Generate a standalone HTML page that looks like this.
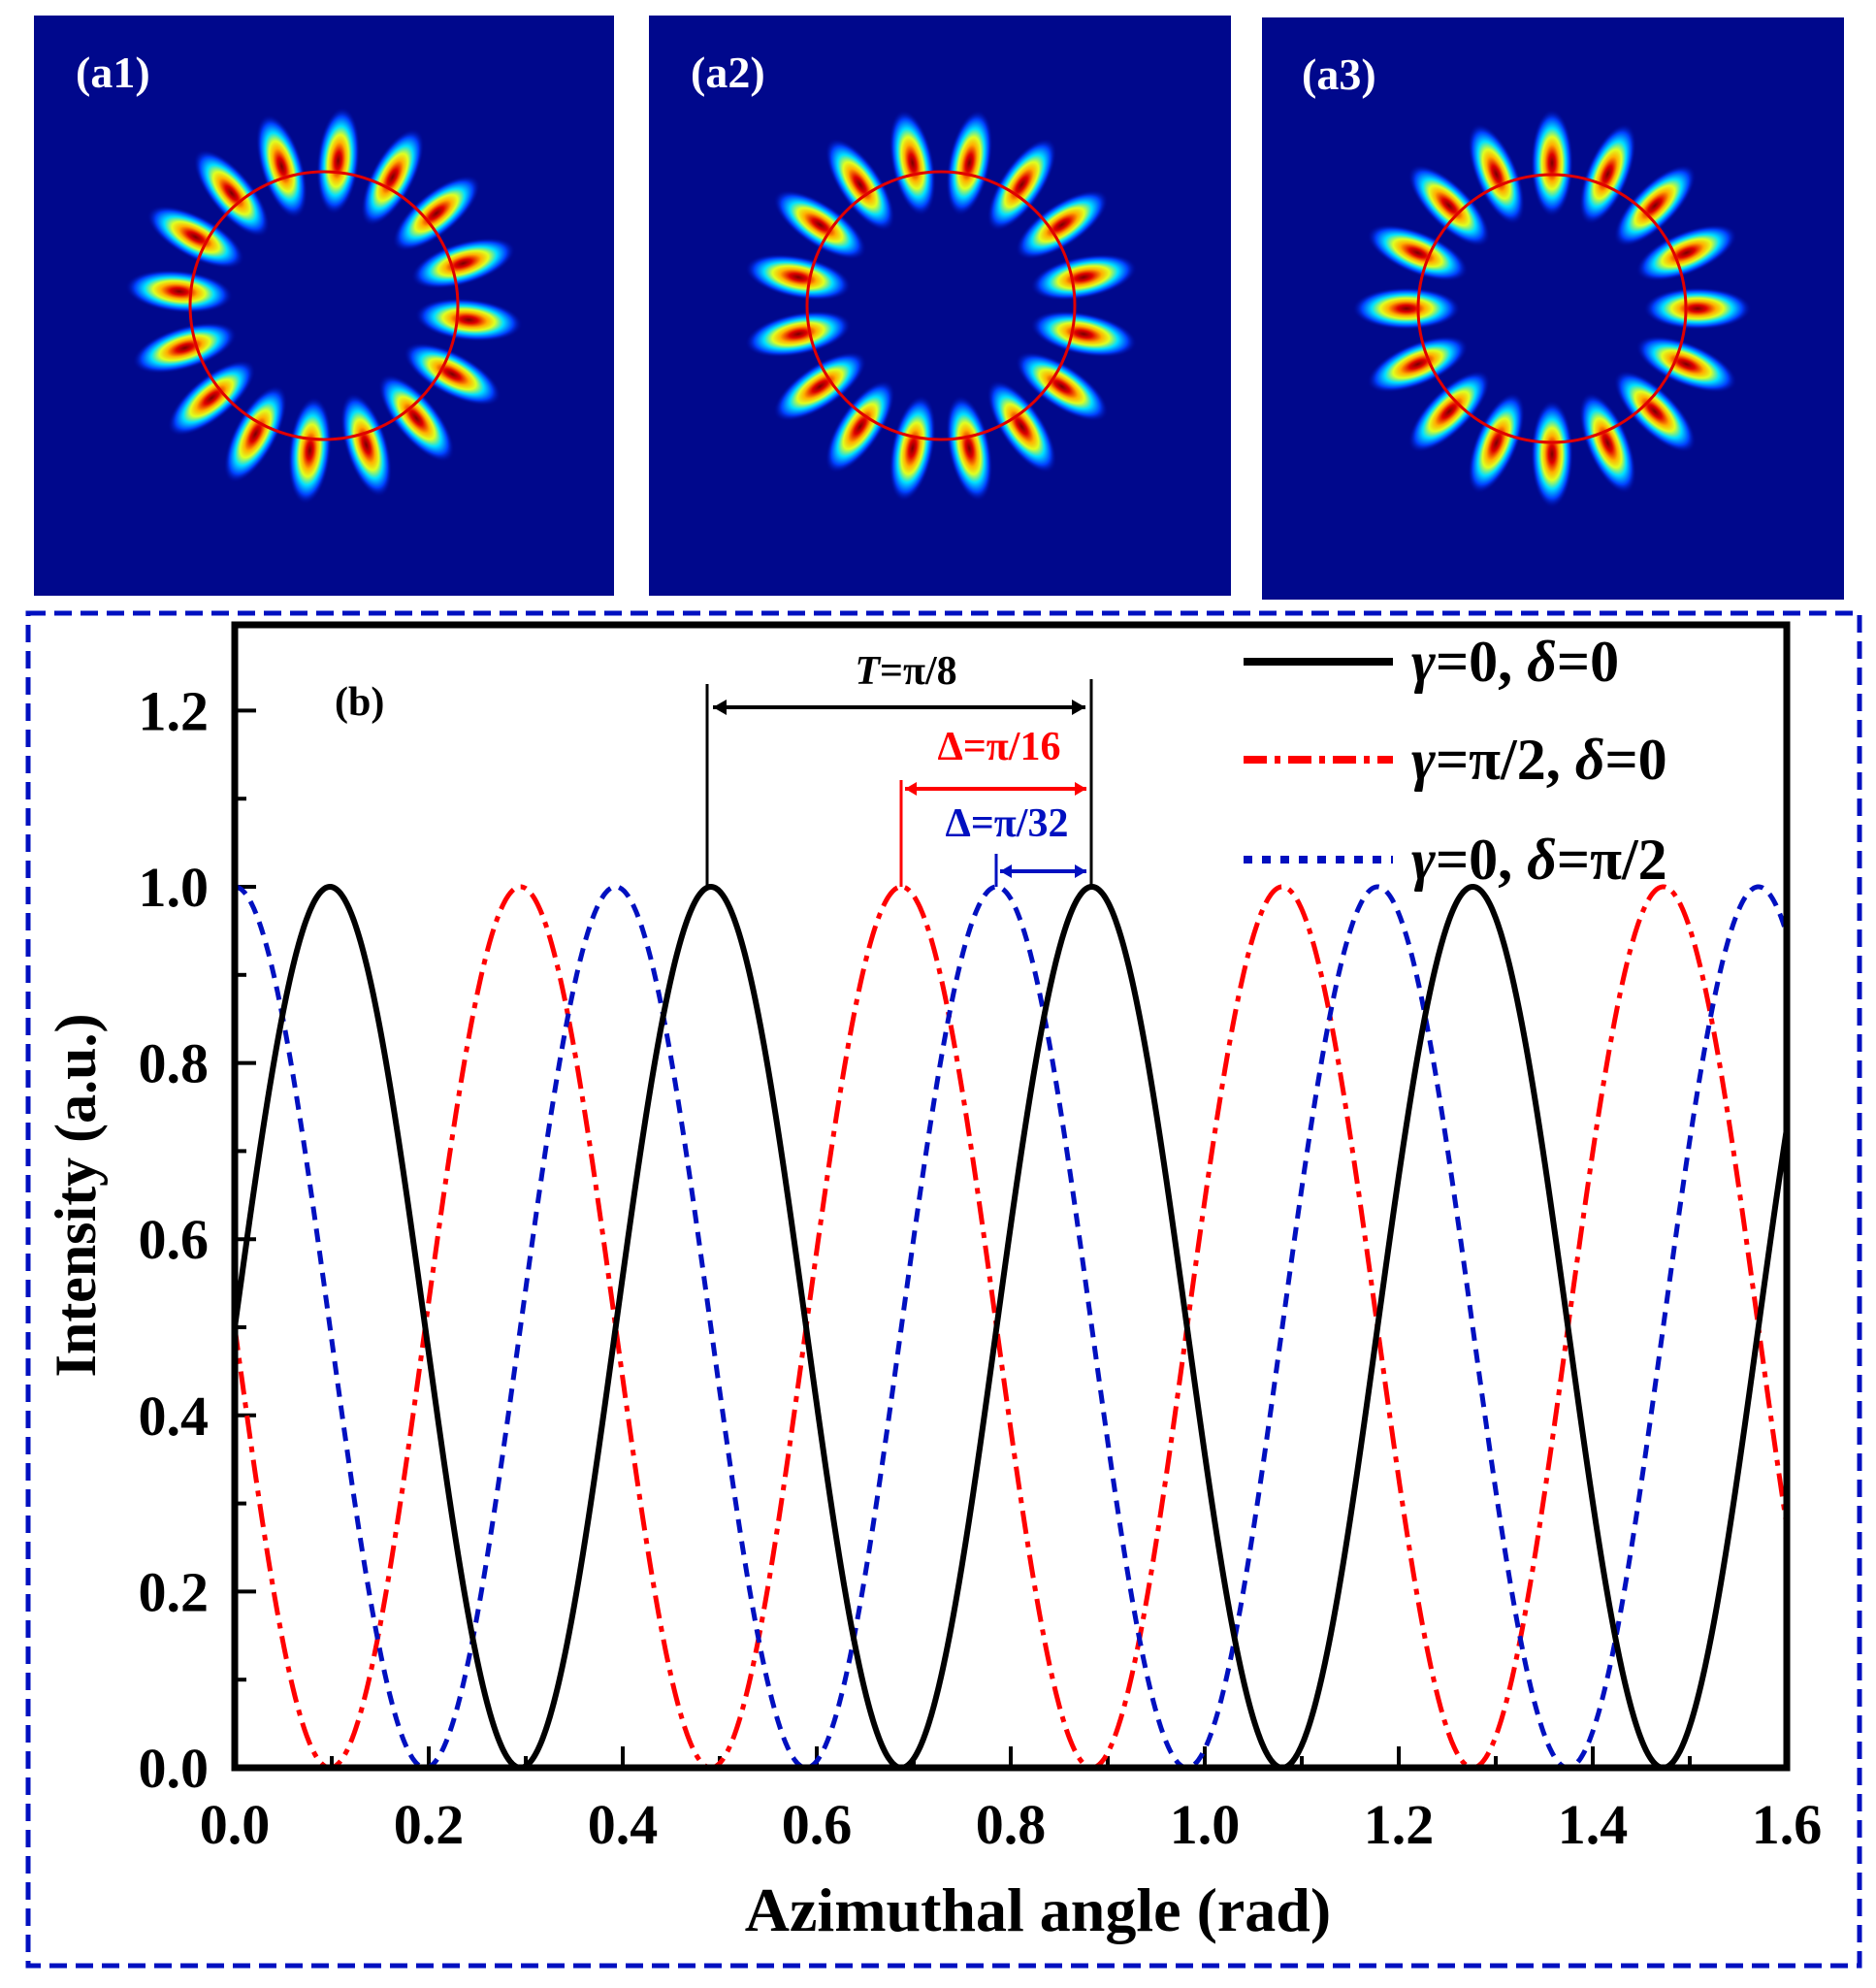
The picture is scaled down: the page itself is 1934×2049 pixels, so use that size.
<!DOCTYPE html>
<html><head><meta charset="utf-8"><style>
html,body{margin:0;padding:0;background:#fff;}
svg{display:block}
text{font-family:"Liberation Serif",serif;font-weight:bold;}
</style></head><body>
<svg id="s" width="1934" height="2049" viewBox="0 0 1934 2049" xmlns="http://www.w3.org/2000/svg">
<defs>
<radialGradient id="lobe" cx="50%" cy="50%" r="50%">
<stop offset="0" stop-color="#7a0000"/>
<stop offset="0.16" stop-color="#e00000"/>
<stop offset="0.34" stop-color="#ffb000"/>
<stop offset="0.48" stop-color="#e0ff20"/>
<stop offset="0.64" stop-color="#00e0ff"/>
<stop offset="0.82" stop-color="#0040ff"/>
<stop offset="1" stop-color="#00008c" stop-opacity="0"/>
</radialGradient>
</defs>
<rect x="35" y="16" width="598" height="598" fill="#00088c"/>
<rect x="669" y="16" width="600" height="598" fill="#00088c"/>
<rect x="1301" y="18" width="600" height="600" fill="#00088c"/>
<g id="rings"></g>
<text x="78" y="90" font-size="46" fill="#fff">(a1)</text>
<text x="712" y="90" font-size="46" fill="#fff">(a2)</text>
<text x="1342" y="92" font-size="46" fill="#fff">(a3)</text>
<rect x="29" y="632" width="1888" height="1394" fill="none" stroke="#0010c0" stroke-width="5" stroke-dasharray="18 9"/>
<g id="ticks" stroke="#000" stroke-width="4"></g>
<g id="curves" fill="none"></g>
<rect x="242" y="644" width="1600" height="1178" fill="none" stroke="#000" stroke-width="7"/>
<g font-size="58" fill="#000" text-anchor="end" id="ylab"></g>
<g font-size="58" fill="#000" text-anchor="middle" id="xlab"></g>
<text x="1070" y="1990" font-size="64" text-anchor="middle">Azimuthal angle (rad)</text>
<text transform="translate(98,1232) rotate(-90)" font-size="60" text-anchor="middle">Intensity (a.u.)</text>
<text x="345" y="737" font-size="42">(b)</text>
<g stroke-width="3">
<line x1="729" y1="705" x2="729" y2="914" stroke="#000"/>
<line x1="1125" y1="700" x2="1125" y2="914" stroke="#000"/>
<line x1="735" y1="729" x2="1119" y2="729" stroke="#000" stroke-width="4"/>
<path d="M735 729 l14 -8 v16z M1119 729 l-14 -8 v16z" fill="#000" stroke="none"/>
<line x1="929" y1="804" x2="929" y2="914" stroke="#f00"/>
<line x1="933" y1="813" x2="1120" y2="813" stroke="#f00" stroke-width="4"/>
<path d="M933 813 l12 -7 v14z M1120 813 l-12 -7 v14z" fill="#f00" stroke="none"/>
<line x1="1027" y1="880" x2="1027" y2="914" stroke="#0010c0"/>
<line x1="1031" y1="898" x2="1120" y2="898" stroke="#0010c0" stroke-width="4"/>
<path d="M1031 898 l12 -7 v14z M1120 898 l-12 -7 v14z" fill="#0010c0" stroke="none"/>
</g>
<text x="934" y="705" font-size="42" text-anchor="middle" font-weight="normal"><tspan font-style="italic">T</tspan>=π/8</text>
<text x="1030" y="783" font-size="42" text-anchor="middle" fill="#f00">Δ=π/16</text>
<text x="1038" y="862" font-size="42" text-anchor="middle" fill="#0010c0" font-weight="normal">Δ=π/32</text>
<line x1="1282" y1="682" x2="1436" y2="682" stroke="#000" stroke-width="8"/>
<line x1="1282" y1="783" x2="1436" y2="783" stroke="#f00" stroke-width="8" stroke-dasharray="24 8 6 8"/>
<line x1="1282" y1="886" x2="1436" y2="886" stroke="#0010c0" stroke-width="8" stroke-dasharray="9 10"/>
<g font-size="60" font-weight="normal">
<text x="1455" y="702"><tspan font-style="italic">γ</tspan>=0, <tspan font-style="italic">δ</tspan>=0</text>
<text x="1455" y="803"><tspan font-style="italic">γ</tspan>=π/2, <tspan font-style="italic">δ</tspan>=0</text>
<text x="1455" y="906"><tspan font-style="italic">γ</tspan>=0, <tspan font-style="italic">δ</tspan>=π/2</text>
</g>
</svg>
<script>
var NS="http://www.w3.org/2000/svg";
function el(p,n,a){var e=document.createElementNS(NS,n);for(var k in a)e.setAttribute(k,a[k]);p.appendChild(e);return e;}
var rings=document.getElementById("rings");
[[334,315,5.6],[970,315,11.25],[1600,318,0]].forEach(function(c){
 for(var i=0;i<16;i++){var a=(i*22.5+c[2]);var r=a*Math.PI/180;
  var x=c[0]+150*Math.cos(r),y=c[1]+150*Math.sin(r);
  el(rings,"ellipse",{cx:x,cy:y,rx:56,ry:22,fill:"url(#lobe)",transform:"rotate("+a+" "+x+" "+y+")"});}
 el(rings,"circle",{cx:c[0],cy:c[1],r:138,fill:"none",stroke:"#e00000","stroke-width":3});
});
var X=function(t){return 242+t*1000;},Y=function(v){return 1822-v*908;};
var cg=document.getElementById("curves");
function curve(ph,col,w,da){var d="";for(var i=0;i<=1600;i++){var t=i/1000;var v=Math.pow(Math.cos(8*t-ph),2);d+=(i?"L":"M")+X(t).toFixed(1)+" "+Y(v).toFixed(1);}
 var a={d:d,stroke:col,"stroke-width":w};if(da)a["stroke-dasharray"]=da;el(cg,"path",a);}
curve(Math.PI*3/4,"#f00",5,"24 8 6 8");
curve(0,"#0010c0",5,"14 9");
curve(Math.PI/4,"#000",6,null);
var tg=document.getElementById("ticks"),yl=document.getElementById("ylab"),xl=document.getElementById("xlab");
for(var i=0;i<=12;i++){var y=Y(i/10);el(tg,"line",{x1:242,x2:i%2?254:264,y1:y,y2:y});
 if(i%2==0){var t=el(yl,"text",{x:215,y:y+20});t.textContent=(i/10).toFixed(1);}}
for(var i=0;i<=16;i++){var x=X(i/10);el(tg,"line",{x1:x,x2:x,y1:1822,y2:i%2?1810:1800});
 if(i%2==0){var t=el(xl,"text",{x:x,y:1900});t.textContent=(i/10).toFixed(1);}}
</script>
</body></html>
